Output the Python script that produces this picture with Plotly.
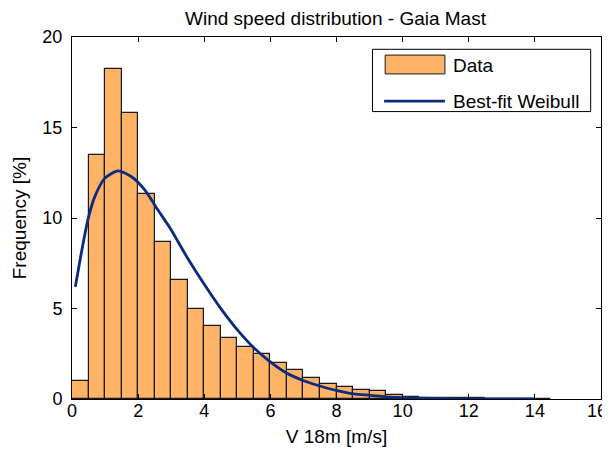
import plotly.graph_objects as go

# Histogram bins (centers, width 0.5 m/s) and frequencies [%]
bin_centers = [0.25, 0.75, 1.25, 1.75, 2.25, 2.75, 3.25, 3.75, 4.25, 4.75,
               5.25, 5.75, 6.25, 6.75, 7.25, 7.75, 8.25, 8.75, 9.25, 9.75,
               10.25, 10.75, 11.25, 11.75, 12.25, 12.75, 13.25, 13.75, 14.25]
freq = [1.0, 13.5, 18.25, 15.8, 11.3, 8.7, 6.57, 4.95, 4.03, 3.39,
        2.89, 2.47, 1.99, 1.58, 1.16, 0.85, 0.66, 0.51, 0.42, 0.22,
        0.12, 0.08, 0.05, 0.04, 0.03, 0.02, 0.02, 0.01, 0.01]

# Best-fit Weibull curve
fit_x = [0.1, 0.28, 0.48, 0.69, 0.99, 1.39, 1.8, 2.2, 2.6, 2.97, 3.47, 3.98,
         4.48, 4.99, 5.49, 5.95, 6.5, 7.01, 7.5, 8.02, 8.52, 9.03, 9.5,
         10.0, 11.0, 12.0, 13.0, 14.0]
fit_y = [6.2, 8.05, 9.9, 11.18, 12.19, 12.6, 12.28, 11.55, 10.44, 9.43, 7.86, 6.39,
         5.05, 3.85, 2.85, 2.12, 1.42, 1.01, 0.72, 0.46, 0.28, 0.2, 0.12,
         0.07, 0.03, 0.01, 0.0, 0.0]

x_ticks = [0, 2, 4, 6, 8, 10, 12, 14, 16]
x_tick_labels = ["0", "2", "4", "6", "8", "10", "12", "14", "16"]
y_ticks = [0, 5, 10, 15, 20]

series_names = ["Data", "Best-fit Weibull"]
BAR_COLOR = "#FFB366"
LINE_COLOR = "#0C2A7E"
FONT = "Liberation Sans, Arial, sans-serif"
TXT = 19
TICK = 18

fig = go.Figure()
fig.add_trace(go.Bar(
    x=bin_centers, y=freq, width=0.5, name=series_names[0],
    marker=dict(color=BAR_COLOR, line=dict(color="#1a1a1a", width=1.2)),
))
fig.add_trace(go.Scatter(
    x=fit_x, y=fit_y, mode="lines", name=series_names[1],
    line=dict(color=LINE_COLOR, width=2.8, shape="spline", smoothing=0.7),
))

axis_common = dict(
    showline=True, linecolor="black", linewidth=1, mirror="ticks",
    ticks="inside", ticklen=5, tickcolor="black", showgrid=False,
    zeroline=False, automargin=False,
    tickfont=dict(size=TICK, color="black", family=FONT),
)

# Legend drawn as a boxed key in the upper right of the axes (paper coords)
shapes = [
    dict(type="rect", xref="paper", yref="paper", x0=0.568, x1=0.9805, y0=0.794, y1=0.966,
         line=dict(color="black", width=1), fillcolor="white", layer="above"),
    dict(type="rect", xref="paper", yref="paper", x0=0.592, x1=0.705, y0=0.898, y1=0.950,
         line=dict(color="#1a1a1a", width=1), fillcolor=BAR_COLOR, layer="above"),
    dict(type="line", xref="paper", yref="paper", x0=0.590, x1=0.705, y0=0.823, y1=0.823,
         line=dict(color=LINE_COLOR, width=2.8), layer="above"),
]
annotations = [
    dict(xref="paper", yref="paper", x=0.716, y=0.921, xanchor="left", yanchor="middle",
         text=series_names[0], showarrow=False, font=dict(size=TXT, color="black", family=FONT)),
    dict(xref="paper", yref="paper", x=0.716, y=0.823, xanchor="left", yanchor="middle",
         text=series_names[1], showarrow=False, font=dict(size=TXT, color="black", family=FONT)),
    # last x tick label, right-aligned so it stays inside the window edge
    dict(xref="x", yref="paper", x=x_ticks[-1], y=0, xanchor="right", yanchor="middle",
         xshift=8, yshift=-12, text=x_tick_labels[-1], showarrow=False,
         font=dict(size=TICK, color="black", family=FONT)),
]

# The page body adds an 8 px offset; the figure is sized to fill the remaining window
fig.update_layout(
    width=602, height=449,
    margin=dict(l=64, r=9, t=29, b=58),
    paper_bgcolor="white", plot_bgcolor="white",
    font=dict(family=FONT, size=TXT, color="black"),
    title=dict(text="Wind speed distribution - Gaia Mast", x=0.544, xanchor="center",
               y=0.977, yanchor="middle", font=dict(size=TXT, color="black", family=FONT)),
    xaxis=dict(range=[0, 16], tickvals=x_ticks, ticktext=x_tick_labels[:-1] + [""],
               ticklabelstandoff=-5,
               title=dict(text="V 18m [m/s]", standoff=10, font=dict(size=TXT)), **axis_common),
    yaxis=dict(range=[0, 20], tickvals=y_ticks, ticklabelstandoff=5,
               title=dict(text="Frequency [%]", standoff=10, font=dict(size=TXT)), **axis_common),
    shapes=shapes, annotations=annotations,
    bargap=0, showlegend=False,
)

fig.write_html("out.html")
